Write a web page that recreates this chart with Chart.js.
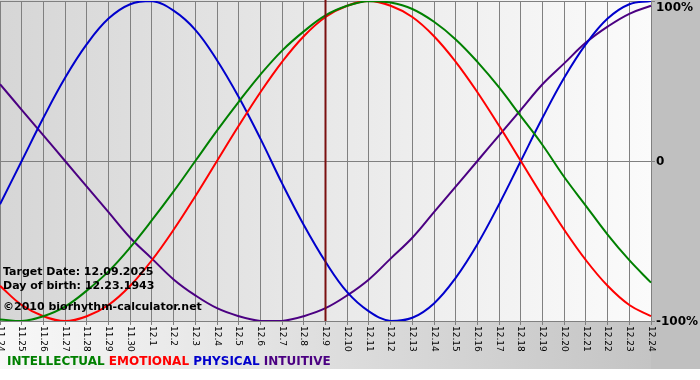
<!DOCTYPE html>
<html>
<head>
<meta charset="utf-8">
<script src="https://cdn.jsdelivr.net/npm/chart.js@4.4.1/dist/chart.umd.min.js"></script>
<style>
  html, body { margin: 0; padding: 0; background: #fff; }
</style>
</head>
<body>
<canvas id="bioChart" width="700" height="380"></canvas>
<script>
// data (values -1 .. 1)
const days = ['11.24', '11.25', '11.26', '11.27', '11.28', '11.29', '11.30',
  '12.1', '12.2', '12.3', '12.4', '12.5', '12.6', '12.7', '12.8', '12.9', '12.10',
  '12.11', '12.12', '12.13', '12.14', '12.15', '12.16', '12.17', '12.18', '12.19',
  '12.20', '12.21', '12.22', '12.23', '12.24'];

const intellectual = [-0.99, -1.00, -0.97, -0.91, -0.81, -0.69, -0.54, -0.37, -0.19, 0.00,
  0.19, 0.37, 0.54, 0.69, 0.81, 0.91, 0.97, 1.00, 0.99, 0.95,
  0.87, 0.76, 0.62, 0.46, 0.28, 0.10, -0.10, -0.28, -0.46, -0.62, -0.76];

const emotional = [-0.78, -0.90, -0.97, -1.00, -0.97, -0.90, -0.78, -0.62, -0.43, -0.22,
  0.00, 0.22, 0.43, 0.62, 0.78, 0.90, 0.97, 1.00, 0.97, 0.90,
  0.78, 0.62, 0.43, 0.22, 0.00, -0.22, -0.43, -0.62, -0.78, -0.90, -0.97];

const physical = [-0.27, 0.00, 0.27, 0.52, 0.73, 0.89, 0.98, 1.00, 0.94, 0.82,
  0.63, 0.40, 0.14, -0.14, -0.40, -0.63, -0.82, -0.94, -1.00, -0.98,
  -0.89, -0.73, -0.52, -0.27, 0.00, 0.27, 0.52, 0.73, 0.89, 0.98, 1.00];

const intuitive = [0.48, 0.32, 0.16, 0.00, -0.16, -0.32, -0.48, -0.61, -0.74, -0.84,
  -0.92, -0.97, -1.00, -1.00, -0.97, -0.92, -0.84, -0.74, -0.61, -0.48,
  -0.32, -0.16, 0.00, 0.16, 0.32, 0.48, 0.61, 0.74, 0.84, 0.92, 0.97];

const yTickValues = [1, 0, -1];
const yTickLabels = ['100%', '0', '-100%'];
const targetDay = '12.9';
const infoLines = ['Target Date: 12.09.2025', 'Day of birth: 12.23.1943', '\u00a92010 biorhythm-calculator.net'];
const seriesNames = ['INTELLECTUAL', 'EMOTIONAL', 'PHYSICAL', 'INTUITIVE'];
const seriesColors = ['#008000', '#ff0000', '#0000cc', '#4b0082'];

// backgrounds, rotated day labels, target line, info text and legend
const bioPlugin = {
  id: 'bio',
  beforeDraw(chart) {
    const ctx = chart.ctx;
    const a = chart.chartArea;
    ctx.save();
    ctx.fillStyle = '#fff';
    ctx.fillRect(0, 0, chart.width, chart.height);
    let g = ctx.createLinearGradient(0, 0, chart.width, 0);
    g.addColorStop(0, '#f8f8f8');
    g.addColorStop(0.93, '#c4c4c4');
    g.addColorStop(1, '#c0c0c0');
    ctx.fillStyle = g;
    ctx.fillRect(0, 0, chart.width, 369);
    ctx.fillStyle = '#c0c0c0';
    ctx.fillRect(a.right, 0, chart.width - a.right, 369);
    g = ctx.createLinearGradient(a.left, 0, a.right, 0);
    g.addColorStop(0, '#d6d6d6');
    g.addColorStop(1, '#fbfbfb');
    ctx.fillStyle = g;
    ctx.fillRect(a.left, 0, a.right - a.left, a.bottom);
    ctx.restore();
  },
  afterDatasetsDraw(chart) {
    const ctx = chart.ctx;
    const a = chart.chartArea;
    const x = chart.scales.x.getPixelForValue(days.indexOf(targetDay));
    ctx.save();
    ctx.strokeStyle = '#7a1010';
    ctx.lineWidth = 2;
    ctx.beginPath();
    ctx.moveTo(x, 0);
    ctx.lineTo(x, a.bottom);
    ctx.stroke();
    ctx.restore();
  },
  afterDraw(chart) {
    const ctx = chart.ctx;
    const a = chart.chartArea;
    const xs = chart.scales.x;
    const ys = chart.scales.y;
    ctx.save();

    // day labels, turned clockwise
    ctx.fillStyle = '#000';
    ctx.font = '9px "DejaVu Sans"';
    ctx.textAlign = 'left';
    ctx.textBaseline = 'middle';
    days.forEach((d, i) => {
      ctx.save();
      ctx.translate(xs.getPixelForTick(i), a.bottom + 5);
      ctx.rotate(Math.PI / 2);
      ctx.fillText(d, 0, 0);
      ctx.restore();
    });

    // percent labels on the right
    ctx.font = 'bold 12px "DejaVu Sans"';
    yTickValues.forEach((v, i) => {
      const y = Math.max(ys.getPixelForValue(v), 7);
      ctx.fillText(yTickLabels[i], a.right + 5, y + 1);
    });

    // target / birth info
    ctx.font = 'bold 11px "DejaVu Sans"';
    infoLines.forEach((t, i) => {
      ctx.fillText(t, 3, [272, 286, 307][i]);
    });

    // coloured legend
    ctx.font = 'bold 12px "DejaVu Sans"';
    let lx = 7;
    seriesNames.forEach((n, i) => {
      ctx.fillStyle = seriesColors[i];
      ctx.fillText(n, lx, 362);
      lx += ctx.measureText(n + ' ').width;
    });
    ctx.restore();
  }
};

const ctx = document.getElementById('bioChart');

const bioChart = new Chart(ctx, {
  type: 'line',
  data: {
    labels: days,
    datasets: [
      { label: seriesNames[0], data: intellectual, borderColor: seriesColors[0] },
      { label: seriesNames[1], data: emotional, borderColor: seriesColors[1] },
      { label: seriesNames[2], data: physical, borderColor: seriesColors[2] },
      { label: seriesNames[3], data: intuitive, borderColor: seriesColors[3] }
    ]
  },
  options: {
    responsive: false,
    animation: false,
    devicePixelRatio: 1,
    layout: { padding: { left: 0, top: 1, right: 45, bottom: 55 } },
    elements: {
      line: { borderWidth: 2, tension: 0.4, fill: false },
      point: { radius: 0 }
    },
    plugins: { legend: { display: false }, tooltip: { enabled: false } },
    scales: {
      x: {
        offset: false,
        grid: { color: '#808080', tickLength: 4, drawTicks: true },
        border: { display: false },
        ticks: { display: false }
      },
      y: {
        position: 'right',
        min: -1,
        max: 1,
        grid: { color: '#808080', tickLength: 4, drawTicks: true },
        border: { display: false },
        ticks: { display: false, stepSize: 1 }
      }
    }
  },
  plugins: [bioPlugin]
});
</script>
</body>
</html>
